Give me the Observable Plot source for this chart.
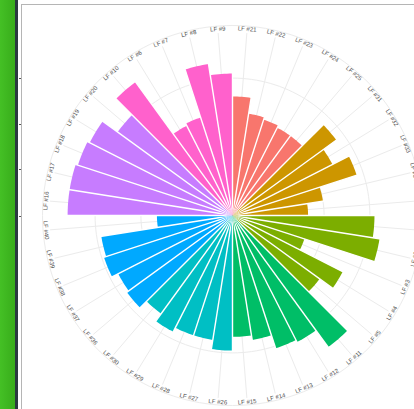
<!DOCTYPE html>
<html>
<head>
<meta charset="utf-8">
<script src="https://cdn.jsdelivr.net/npm/d3@7"></script>
<script src="https://cdn.jsdelivr.net/npm/@observablehq/plot@0.6"></script>
<style>
  html, body { margin: 0; padding: 0; background: #fff; }
  #wrap { position: relative; width: 414px; height: 409px; overflow: hidden; background: #fff; }
  #green { position: absolute; left: 0; top: 0; width: 15px; height: 409px; background: linear-gradient(90deg, #44c025, #38ad1b); }
  #dark { position: absolute; left: 15px; top: 0; width: 3px; height: 409px; background: #2b3940; }
  #vborder { position: absolute; left: 21px; top: 4px; width: 1px; height: 405px; background: #b5b5b5; }
  #hborder { position: absolute; left: 21px; top: 4px; width: 393px; height: 1px; background: #b5b5b5; }
  .tick { position: absolute; left: 19px; width: 2px; height: 1px; background: #555; }
  #chart { position: absolute; left: 0; top: 0; }
</style>
</head>
<body>
<div id="wrap">
  <div id="green"></div>
  <div id="dark"></div>
  <div id="vborder"></div>
  <div id="hborder"></div>
  <div class="tick" style="top:78px"></div>
  <div class="tick" style="top:124px"></div>
  <div class="tick" style="top:169px"></div>
  <div class="tick" style="top:216px"></div>
  <div id="chart"></div>
</div>
<script>
// ---- data ----
const labels = ["LF #21","LF #22","LF #23","LF #24","LF #25",
                "LF #31","LF #32","LF #33","LF #34","LF #35",
                "LF #1","LF #2","LF #3","LF #4","LF #5",
                "LF #11","LF #12","LF #13","LF #14","LF #15",
                "LF #26","LF #27","LF #28","LF #29","LF #30",
                "LF #36","LF #37","LF #38","LF #39","LF #40",
                "LF #16","LF #17","LF #18","LF #19","LF #20",
                "LF #10","LF #6","LF #7","LF #8","LF #9"];
const groups = ["G5","G5","G5","G5","G5",
                "G7","G7","G7","G7","G7",
                "G1","G1","G1","G1","G1",
                "G3","G3","G3","G3","G3",
                "G6","G6","G6","G6","G6",
                "G8","G8","G8","G8","G8",
                "G4","G4","G4","G4","G4",
                "G2","G2","G2","G2","G2"];
const values = [52,45,44,43,43,
                56,49,57,40,33,
                62,65,33,54,47,
                71,62,61,55,53,
                59,55,55,57,53,
                57,56,59,58,33,
                72,72,71,70,62,
                72,44,45,67,62];
const groupOrder = ["G5","G7","G1","G3","G6","G8","G4","G2"];
const palette = ["#F8766D","#CD9600","#7CAE00","#00BE67","#00BFC4","#00A9FF","#C77CFF","#FF61CC"];
const gridTicks = [20, 40, 60];

// ---- layout ----
const W = 414, H = 409, cx = 232, cy = 215, k = 2.29;
const outerR = 190 / k, spokeR = 183 / k, labelR = 187 / k;
const n = labels.length, step = 360 / n;
const rad = a => a * Math.PI / 180;

// bar wedges
const barRows = [];
labels.forEach((lab, i) => {
  const v = values[i];
  barRows.push({id: i, group: groups[i], x: 0, y: 0});
  const a0 = i * step, a1 = (i + 1) * step, m = 8;
  for (let j = 0; j <= m; j++) {
    const a = rad(a0 + (a1 - a0) * j / m);
    barRows.push({id: i, group: groups[i], x: v * Math.sin(a), y: v * Math.cos(a)});
  }
});

// white separators between neighbouring bars (tapering to the centre)
const hw = 0.7 / k, r0 = 14 / k;
const sepRows = [];
labels.forEach((lab, i) => {
  const prev = values[(i - 1 + n) % n];
  const rEnd = Math.max(prev, values[i]) + 0.5;
  const phi = rad(i * step);
  const dx = Math.sin(phi), dy = Math.cos(phi);
  const px = Math.cos(phi), py = -Math.sin(phi);
  const pts = [[0, 0],
               [dx * r0 + px * hw, dy * r0 + py * hw],
               [dx * rEnd + px * hw, dy * rEnd + py * hw],
               [dx * rEnd - px * hw, dy * rEnd - py * hw],
               [dx * r0 - px * hw, dy * r0 - py * hw]];
  pts.forEach(([x, y]) => sepRows.push({id: i, x, y}));
});

const circleRows = [];
[...gridTicks, outerR].forEach(r => {
  for (let a = 0; a < 360; a += 2) circleRows.push({r, x: r * Math.sin(rad(a)), y: r * Math.cos(rad(a))});
});

const spokeRows = labels.map((lab, i) => {
  const a = rad((i + 0.5) * step);
  return {x2: spokeR * Math.sin(a), y2: spokeR * Math.cos(a)};
});

const labelRows = labels.map((lab, i) => {
  const t = (i + 0.5) * step;
  const a = rad(t);
  let rot = t;
  if (t > 90 && t < 270) rot = t - 180;
  else if (t >= 270) rot = t - 360;
  return {text: lab, x: labelR * Math.sin(a), y: labelR * Math.cos(a), rot};
});

const plot = Plot.plot({
  width: W, height: H, margin: 0,
  x: {domain: [-cx / k, (W - cx) / k], axis: null},
  y: {domain: [-(H - cy) / k, cy / k], axis: null},
  color: {domain: groupOrder, range: palette},
  style: {background: "transparent", fontFamily: "Liberation Sans, Arial, sans-serif"},
  marks: [
    Plot.line(circleRows, {x: "x", y: "y", z: "r", curve: "linear-closed", stroke: "#ebebeb", strokeWidth: 1}),
    Plot.link(spokeRows, {x1: 0, y1: 0, x2: "x2", y2: "y2", stroke: "#ebebeb", strokeWidth: 1}),
    Plot.line(barRows, {x: "x", y: "y", z: "id", fill: "group", stroke: "none", curve: "linear-closed"}),
    Plot.line(sepRows, {x: "x", y: "y", z: "id", fill: "white", stroke: "none", curve: "linear-closed"}),
    Plot.text(labelRows, {x: "x", y: "y", text: "text", rotate: "rot", fontSize: 6, fill: "#4d4d4d", textAnchor: "middle", lineAnchor: "middle"})
  ]
});
document.getElementById("chart").appendChild(plot);
</script>
</body>
</html>
